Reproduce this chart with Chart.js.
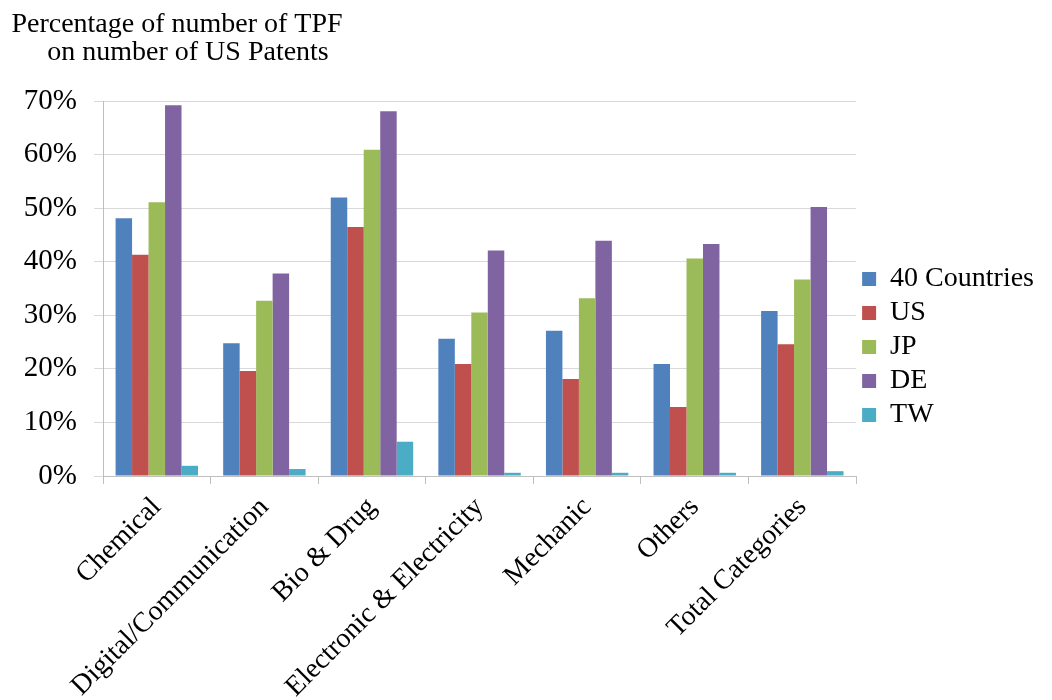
<!DOCTYPE html>
<html>
<head>
<meta charset="utf-8">
<script src="https://cdn.jsdelivr.net/npm/chart.js@4.4.1/dist/chart.umd.min.js"></script>
<style>
  html, body { margin: 0; padding: 0; background: #fff; }
  #wrap { width: 1052px; height: 700px; position: relative; }
</style>
</head>
<body>
<div id="wrap"><canvas id="tpf-chart" width="1052" height="700"></canvas></div>
<script>
const categories = ['Chemical', 'Digital/Communication', 'Bio & Drug', 'Electronic & Electricity', 'Mechanic', 'Others', 'Total Categories'];
const countries40 = [48.1, 24.8, 52.0, 25.6, 27.1, 20.9, 30.8];
const usValues    = [41.3, 19.6, 46.5, 20.9, 18.1, 12.9, 24.6];
const jpValues    = [51.1, 32.7, 60.9, 30.5, 33.2, 40.6, 36.7];
const deValues    = [69.2, 37.8, 68.1, 42.1, 43.9, 43.3, 50.2];
const twValues    = [1.9, 1.3, 6.4, 0.6, 0.6, 0.6, 0.9];
const yTicks = [0, 10, 20, 30, 40, 50, 60, 70];
const titleLines = ['Percentage of number of TPF', 'on number of US Patents'];

const FONT = "'Liberation Serif', 'Times New Roman', serif";

// two-line title, centred over the y axis like the original
const titlePlugin = {
  id: 'sideTitle',
  afterDraw(chart) {
    const ctx = chart.ctx;
    ctx.save();
    ctx.fillStyle = '#000';
    ctx.font = '28px ' + FONT;
    ctx.textAlign = 'center';
    ctx.textBaseline = 'alphabetic';
    ctx.fillText(titleLines[0], 177, 32);
    ctx.fillText(titleLines[1], 188, 60);
    ctx.restore();
  }
};

function initChart() {
  if (typeof Chart === 'undefined') {
    console.error('Chart.js not loaded');
    return;
  }
  const canvas = document.getElementById('tpf-chart');
  const ctx = canvas.getContext('2d');

  const mk = (label, data, color) => ({
    label, data,
    backgroundColor: color,
    borderWidth: 0,
    categoryPercentage: 0.766,
    barPercentage: 1
  });

  new Chart(ctx, {
    type: 'bar',
    data: {
      labels: categories,
      datasets: [
        mk('40 Countries', countries40, '#4F81BD'),
        mk('US', usValues, '#C0504D'),
        mk('JP', jpValues, '#9BBB59'),
        mk('DE', deValues, '#8064A2'),
        mk('TW', twValues, '#4BACC6')
      ]
    },
    options: {
      responsive: false,
      animation: false,
      layout: { padding: { top: 101, right: 8, left: 0, bottom: 0 } },
      plugins: {
        legend: {
          position: 'right',
          align: 'start',
          // empty legend title used as a spacer so the items sit mid-height
          title: { display: true, text: '', font: { size: 10 }, padding: { top: 146, bottom: 0 } },
          labels: {
            boxWidth: 14,
            boxHeight: 14,
            padding: 6,
            color: '#000',
            font: { size: 28, family: FONT }
          }
        },
        tooltip: { enabled: false }
      },
      scales: {
        y: {
          min: 0, max: 70,
          afterBuildTicks: s => { s.ticks = yTicks.map(v => ({ value: v })); },
          afterFit: s => { s.width = 103; },
          ticks: {
            padding: 17,
            color: '#000',
            font: { size: 29, family: FONT },
            callback: v => v + '%'
          },
          grid: { color: '#d9d9d9', tickLength: 9, lineWidth: 1 },
          border: { color: '#bfbfbf' }
        },
        x: {
          afterFit: s => { s.height = 224; },
          ticks: {
            minRotation: 45, maxRotation: 45,
            padding: 7,
            autoSkip: false,
            color: '#000',
            font: { size: 28, family: FONT }
          },
          grid: { drawOnChartArea: false, tickLength: 8, color: '#bfbfbf' },
          border: { color: '#bfbfbf' }
        }
      }
    },
    plugins: [titlePlugin]
  });
}

document.addEventListener('DOMContentLoaded', initChart);
</script>
</body>
</html>
